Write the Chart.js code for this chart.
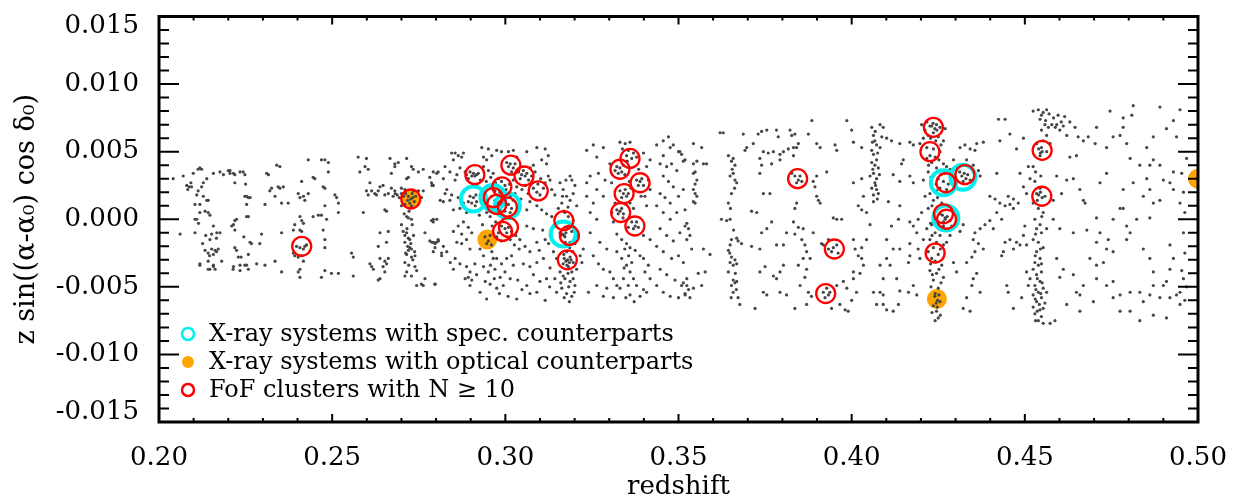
<!DOCTYPE html>
<html>
<head>
<meta charset="utf-8">
<script src="https://cdn.jsdelivr.net/npm/chart.js@4.4.1/dist/chart.umd.min.js"></script>
<style>
  html, body { margin: 0; padding: 0; background: #ffffff; }
  #wrap { width: 1245px; height: 502px; }
</style>
</head>
<body>
<div id="wrap"><canvas id="coneChart" width="1245" height="502"></canvas></div>
<script>
// field galaxies: [redshift, z sin((a-a0) cos d0)]
const galaxies = [
  // z 0.204 - 0.228
  [0.2041,0.0030],[0.2070,0.0032],[0.2080,0.0025],[0.2094,0.0024],[0.2099,0.0034],[0.2118,0.0038],[0.2128,0.0027],[0.2109,0.0018],
  [0.2118,0.0011],[0.2138,0.0014],[0.2142,0.0005],[0.2104,0.0000],[0.2114,-0.0003],[0.2157,0.0034],[0.2176,0.0035],[0.2205,0.0036],
  [0.2215,0.0034],[0.2234,0.0035],[0.2248,0.0033],[0.2253,0.0017],[0.2263,0.0016],[0.2224,0.0000],[0.2215,-0.0004],[0.2157,-0.0005],
  [0.2167,-0.0010],[0.2258,0.0002],[0.2061,-0.0011],[0.2118,-0.0034],[0.2147,-0.0037],[0.2157,-0.0035],[0.2215,-0.0035],[0.2234,-0.0038],
  [0.2253,-0.0034],[0.2087,0.0024],[0.2083,0.0022],[0.2092,0.0027],[0.2113,0.0021],[0.2104,0.0011],[0.2118,0.0005],[0.2109,0.0000],
  [0.2104,-0.0010],[0.2113,0.0037],[0.2123,0.0037],[0.2123,0.0024],[0.2142,0.0014],[0.2133,0.0006],[0.2147,0.0003],[0.2133,-0.0023],
  [0.2142,-0.0025],[0.2152,-0.0022],[0.2162,-0.0023],[0.2166,-0.0024],[0.2171,-0.0022],[0.2157,-0.0026],[0.2147,-0.0015],[0.2152,-0.0011],
  [0.2166,-0.0014],[0.2176,-0.0010],[0.2142,-0.0031],[0.2157,-0.0034],[0.2142,-0.0037],[0.2162,-0.0037],[0.2181,-0.0031],[0.2118,-0.0033],
  [0.2186,0.0033],[0.2200,0.0036],[0.2205,0.0034],[0.2219,0.0033],[0.2243,0.0035],[0.2219,0.0027],[0.2248,0.0017],[0.2258,0.0016],
  [0.2253,0.0002],[0.2219,-0.0001],[0.2210,-0.0005],[0.2219,-0.0008],[0.2219,-0.0021],[0.2224,-0.0023],[0.2229,-0.0028],[0.2263,-0.0017],
  [0.2267,-0.0018],[0.2258,-0.0026],[0.2234,-0.0034],[0.2248,-0.0034],[0.2258,-0.0037],[0.2214,-0.0037],[0.2253,0.0011],
  [0.2128,0.0017],[0.2135,-0.0012],[0.2146,-0.0027],[0.2126,-0.0018],[0.2138,0.0030],[0.2237,-0.0028],[0.2245,-0.0013],[0.2250,0.0026],
  // z 0.228 - 0.256
  [0.2311,0.0034],[0.2316,0.0033],[0.2340,0.0040],[0.2349,0.0039],[0.2320,0.0021],[0.2325,0.0023],[0.2344,0.0024],[0.2349,0.0023],
  [0.2359,0.0024],[0.2335,0.0017],[0.2306,0.0011],[0.2354,0.0012],[0.2296,-0.0011],[0.2291,-0.0018],[0.2335,-0.0031],[0.2354,-0.0010],
  [0.2354,-0.0039],[0.2306,-0.0034],[0.2282,-0.0033],[0.2373,0.0012],[0.2392,-0.0004],[0.2388,-0.0008],[0.2407,0.0002],[0.2412,-0.0001],
  [0.2417,-0.0003],[0.2407,-0.0008],[0.2412,-0.0009],[0.2402,0.0019],[0.2407,0.0016],[0.2417,0.0017],[0.2421,0.0014],[0.2431,0.0019],
  [0.2412,0.0028],[0.2397,-0.0020],[0.2407,-0.0021],[0.2417,-0.0022],[0.2421,-0.0020],[0.2426,-0.0019],[0.2388,-0.0025],[0.2392,-0.0027],
  [0.2402,-0.0028],[0.2412,-0.0027],[0.2417,-0.0031],[0.2407,-0.0037],[0.2402,-0.0039],[0.2407,-0.0043],[0.2431,0.0044],[0.2445,0.0031],
  [0.2450,0.0030],[0.2445,0.0002],[0.2460,0.0003],[0.2469,0.0003],[0.2469,0.0044],[0.2479,0.0044],[0.2489,0.0042],[0.2474,0.0024],
  [0.2479,0.0023],[0.2489,0.0035],[0.2479,0.0010],[0.2484,0.0000],[0.2474,-0.0008],[0.2479,-0.0015],[0.2479,-0.0021],[0.2469,-0.0043],
  [0.2508,0.0018],[0.2513,0.0016],[0.2518,0.0012],[0.2518,0.0005],[0.2479,-0.0038],[0.2498,-0.0040],[0.2518,-0.0040],[0.2556,-0.0025],
  [0.2561,-0.0028],[0.2561,-0.0042],
  // z 0.256 - 0.283
  [0.2575,0.0046],[0.2599,0.0045],[0.2595,0.0039],[0.2580,0.0035],[0.2604,0.0037],[0.2609,0.0027],[0.2599,0.0021],[0.2604,0.0018],
  [0.2614,0.0021],[0.2628,0.0018],[0.2638,0.0024],[0.2647,0.0025],[0.2652,0.0018],[0.2662,0.0019],[0.2590,0.0005],[0.2623,0.0019],
  [0.2633,0.0021],[0.2652,0.0007],[0.2657,0.0006],[0.2638,-0.0010],[0.2633,-0.0020],[0.2657,-0.0017],[0.2662,-0.0009],[0.2652,-0.0031],
  [0.2657,-0.0033],[0.2647,-0.0035],[0.2638,-0.0029],[0.2609,-0.0033],[0.2614,-0.0035],[0.2619,-0.0037],[0.2633,-0.0045],[0.2638,-0.0044],
  [0.2652,-0.0039],[0.2662,-0.0029],[0.2667,0.0045],[0.2681,0.0041],[0.2691,0.0042],[0.2715,0.0045],[0.2671,0.0034],[0.2681,0.0039],
  [0.2729,0.0039],[0.2734,0.0037],[0.2671,0.0023],[0.2681,0.0021],[0.2700,0.0023],[0.2710,0.0022],[0.2715,0.0030],[0.2720,0.0031],
  [0.2700,0.0010],[0.2710,0.0011],[0.2715,0.0002],[0.2720,0.0001],[0.2729,0.0000],[0.2700,-0.0004],[0.2705,-0.0009],[0.2715,-0.0010],
  [0.2710,-0.0012],[0.2720,-0.0014],[0.2724,-0.0015],[0.2710,-0.0017],[0.2718,-0.0020],[0.2724,-0.0021],[0.2729,-0.0022],[0.2720,-0.0023],
  [0.2715,-0.0026],[0.2729,-0.0028],[0.2739,-0.0027],[0.2710,-0.0032],[0.2739,-0.0035],[0.2729,-0.0042],[0.2710,-0.0042],[0.2744,-0.0049],
  [0.2758,-0.0048],[0.2763,-0.0049],[0.2768,-0.0044],[0.2797,-0.0048],[0.2749,0.0035],[0.2763,0.0037],[0.2749,0.0021],[0.2763,0.0021],
  [0.2758,0.0016],[0.2787,0.0027],[0.2792,0.0025],[0.2782,0.0031],[0.2806,0.0035],[0.2792,0.0000],[0.2787,-0.0001],[0.2768,-0.0010],
  [0.2782,-0.0016],[0.2792,-0.0017],[0.2801,-0.0017],[0.2797,-0.0021],[0.2806,-0.0015],[0.2816,-0.0025],[0.2821,-0.0020],
  [0.2720,0.0017],[0.2727,0.0015],[0.2733,0.0016],[0.2724,0.0012],[0.2731,0.0019],[0.2737,0.0013],[0.2718,0.0014],[0.2729,0.0010],
  [0.2741,0.0017],[0.2735,0.0021],[0.2712,0.0019],[0.2706,0.0017],[0.2700,0.0019],[0.2694,0.0016],[0.2688,0.0018],[0.2682,0.0019],
  [0.2676,0.0017],[0.2722,0.0006],[0.2731,-0.0004],[0.2716,-0.0007],[0.2735,-0.0012],[0.2727,-0.0018],[0.2712,-0.0025],[0.2733,-0.0030],
  [0.2721,-0.0034],[0.2744,-0.0038],[0.2715,-0.0039],[0.2738,-0.0024],[0.2708,0.0004],
  // z 0.278 - 0.292
  [0.2792,0.0035],[0.2802,0.0034],[0.2788,0.0025],[0.2821,0.0030],[0.2826,0.0019],[0.2812,0.0014],[0.2821,0.0013],[0.2802,0.0000],
  [0.2792,-0.0002],[0.2788,-0.0017],[0.2797,-0.0018],[0.2807,-0.0016],[0.2792,-0.0024],[0.2816,-0.0027],[0.2831,-0.0024],[0.2797,-0.0048],
  [0.2841,-0.0032],[0.2826,0.0039],[0.2845,0.0049],[0.2855,0.0049],[0.2864,0.0047],[0.2874,0.0046],[0.2850,0.0044],[0.2879,0.0049],
  [0.2869,0.0038],[0.2884,0.0035],[0.2840,0.0035],[0.2860,0.0033],[0.2888,0.0033],[0.2855,0.0029],[0.2898,0.0035],[0.2908,0.0034],
  [0.2917,0.0033],[0.2912,0.0032],[0.2903,0.0032],[0.2922,0.0034],[0.2893,0.0030],[0.2831,0.0022],[0.2845,0.0018],[0.2840,0.0014],
  [0.2864,0.0016],[0.2879,0.0012],[0.2893,0.0013],[0.2869,0.0008],[0.2850,0.0007],[0.2888,0.0005],[0.2898,0.0006],[0.2898,0.0017],
  [0.2908,0.0016],[0.2917,0.0013],[0.2903,0.0012],[0.2913,0.0010],[0.2864,-0.0005],[0.2879,-0.0002],[0.2850,-0.0009],[0.2874,-0.0011],
  [0.2893,-0.0006],[0.2903,-0.0010],[0.2888,-0.0015],[0.2860,-0.0017],[0.2874,-0.0018],[0.2898,-0.0022],[0.2855,-0.0029],[0.2869,-0.0033],
  [0.2888,-0.0035],[0.2898,-0.0039],[0.2893,-0.0043],[0.2903,-0.0045],[0.2898,-0.0049],[0.2884,-0.0044],[0.2850,-0.0037],[0.2912,-0.0033],
  [0.2917,-0.0041],
  // z 0.292 - 0.303
  [0.2932,0.0053],[0.2951,0.0052],[0.2937,0.0046],[0.2961,0.0047],[0.2975,0.0051],[0.2989,0.0050],[0.3009,0.0050],[0.3023,0.0051],
  [0.2946,0.0044],[0.2937,0.0039],[0.2951,0.0036],[0.2965,0.0034],[0.2980,0.0030],[0.2989,0.0028],[0.2999,0.0025],[0.2956,0.0024],
  [0.2970,0.0021],[0.2941,0.0019],[0.2961,0.0017],[0.2970,0.0014],[0.2980,0.0012],[0.2989,0.0016],[0.2999,0.0013],[0.3009,0.0011],
  [0.3018,0.0008],[0.3014,0.0005],[0.2999,0.0006],[0.2985,0.0007],[0.2975,0.0010],[0.2937,0.0010],[0.2946,0.0005],[0.2956,0.0002],
  [0.3023,0.0014],[0.3028,0.0019],[0.3014,0.0017],[0.3004,0.0019],[0.3033,0.0024],[0.3023,0.0029],[0.3018,0.0035],[0.3009,0.0039],
  [0.3028,0.0041],[0.3004,0.0042],[0.3033,0.0046],[0.2989,-0.0005],[0.2999,-0.0007],[0.3009,-0.0006],[0.3004,-0.0010],[0.2980,-0.0010],
  [0.3018,-0.0009],[0.2975,-0.0013],[0.2989,-0.0016],[0.3014,-0.0015],[0.2941,-0.0013],[0.2951,-0.0016],[0.2956,-0.0012],[0.2946,-0.0018],
  [0.2927,-0.0022],[0.2937,-0.0027],[0.2961,-0.0024],[0.2975,-0.0029],[0.2989,-0.0033],[0.3004,-0.0029],[0.3018,-0.0027],[0.2937,-0.0035],
  [0.2951,-0.0039],[0.2970,-0.0037],[0.2985,-0.0043],[0.2999,-0.0039],[0.3014,-0.0044],[0.2956,-0.0048],[0.2975,-0.0051],[0.2927,-0.0054],
  [0.2946,-0.0059],[0.2994,-0.0049],[0.3023,-0.0034],[0.2965,-0.0029],[0.3014,0.0041],[0.3023,0.0038],[0.3038,0.0035],[0.3047,0.0033],
  [0.3057,0.0032],[0.3062,0.0034],[0.3052,0.0036],[0.3043,0.0030],[0.3067,0.0029],[0.3076,0.0032],
  [0.2945,0.0028],[0.2958,0.0031],[0.2972,0.0027],[0.2984,0.0020],[0.2993,0.0019],[0.3002,0.0022],[0.3012,0.0026],[0.2966,0.0008],
  [0.2955,0.0006],[0.2994,0.0003],[0.3003,0.0001],[0.3026,0.0003],[0.3036,0.0008],[0.3045,0.0015],[0.3048,0.0022],[0.3058,0.0025],
  [0.3072,0.0038],[0.3086,0.0035],[0.3094,0.0026],[0.3102,0.0030],[0.2920,0.0024],[0.2928,0.0029],[0.2915,0.0018],[0.2925,0.0003],
  [0.2934,-0.0004],[0.2962,-0.0005],[0.2972,-0.0002],[0.3030,-0.0012],[0.3040,-0.0022],[0.3026,-0.0019],[0.2960,-0.0019],[0.2968,-0.0044],
  [0.2983,-0.0055],[0.3008,-0.0057],[0.3036,-0.0045],[0.3048,-0.0052],[0.2942,-0.0046],[0.2957,-0.0034],[0.3098,-0.0023],[0.3108,-0.0008],
  [0.3125,-0.0018],[0.3128,-0.0050],
  // z 0.303 - 0.313
  [0.3062,0.0050],[0.3091,0.0053],[0.3115,0.0052],[0.3124,0.0047],[0.3105,0.0044],[0.3119,0.0041],[0.3081,0.0040],[0.3066,0.0019],
  [0.3081,0.0023],[0.3091,0.0020],[0.3100,0.0018],[0.3110,0.0023],[0.3115,0.0027],[0.3124,0.0032],[0.3129,0.0029],[0.3071,0.0013],
  [0.3062,0.0007],[0.3091,0.0010],[0.3105,0.0007],[0.3119,0.0004],[0.3062,-0.0005],[0.3081,-0.0007],[0.3042,-0.0015],[0.3057,-0.0020],
  [0.3071,-0.0024],[0.3091,-0.0017],[0.3115,-0.0015],[0.3052,-0.0033],[0.3071,-0.0035],[0.3091,-0.0032],[0.3110,-0.0029],[0.3081,-0.0041],
  [0.3100,-0.0046],[0.3062,-0.0049],[0.3119,-0.0044],[0.3129,-0.0036],[0.3071,-0.0055],[0.3091,-0.0054],[0.3033,-0.0059],[0.3115,-0.0060],
  // z 0.313 - 0.323
  [0.3134,0.0022],[0.3143,0.0018],[0.3158,0.0027],[0.3167,0.0022],[0.3177,0.0017],[0.3187,0.0014],[0.3196,0.0019],[0.3201,0.0025],
  [0.3192,0.0029],[0.3206,0.0010],[0.3163,0.0012],[0.3153,0.0008],[0.3172,0.0005],[0.3182,0.0002],[0.3196,-0.0001],[0.3163,-0.0002],
  [0.3177,-0.0006],[0.3192,-0.0009],[0.3206,-0.0012],[0.3158,-0.0010],[0.3172,-0.0013],[0.3187,-0.0017],[0.3201,-0.0018],[0.3163,-0.0020],
  [0.3177,-0.0024],[0.3187,-0.0028],[0.3196,-0.0032],[0.3167,-0.0033],[0.3182,-0.0035],[0.3192,-0.0039],[0.3158,-0.0039],[0.3172,-0.0044],
  [0.3187,-0.0046],[0.3201,-0.0049],[0.3163,-0.0051],[0.3177,-0.0055],[0.3192,-0.0057],[0.3206,-0.0037],[0.3216,-0.0027],[0.3221,-0.0032],
  [0.3225,-0.0022],[0.3148,-0.0029],[0.3139,-0.0024],[0.3143,-0.0044],[0.3148,-0.0054],[0.3134,0.0002],[0.3180,-0.0030],[0.3175,-0.0031],
  [0.3185,-0.0032],[0.3170,-0.0029],[0.3190,-0.0030],[0.3178,-0.0034],[0.3165,-0.0011],[0.3170,-0.0012],[0.3175,-0.0010],[0.3160,-0.0012],
  [0.3168,0.0006],[0.3181,0.0009],[0.3173,-0.0017],[0.3186,-0.0021],[0.3169,-0.0026],[0.3195,-0.0024],[0.3181,-0.0040],[0.3167,-0.0042],
  [0.3196,-0.0044],[0.3183,-0.0050],[0.3170,-0.0058],[0.3185,-0.0061],[0.3199,-0.0054],[0.3160,-0.0047],[0.3175,0.0029],[0.3187,0.0032],
  [0.3165,0.0017],
  // z 0.323 - 0.333
  [0.3235,0.0051],[0.3254,0.0055],[0.3264,0.0046],[0.3283,0.0053],[0.3235,0.0017],[0.3254,0.0012],[0.3264,0.0022],[0.3283,0.0017],
  [0.3245,0.0005],[0.3264,0.0000],[0.3245,-0.0010],[0.3273,-0.0017],[0.3293,-0.0022],[0.3254,-0.0027],[0.3269,-0.0033],[0.3283,-0.0037],
  [0.3302,-0.0039],[0.3312,-0.0044],[0.3322,-0.0049],[0.3264,-0.0049],[0.3293,-0.0051],[0.3240,-0.0054],[0.3283,-0.0057],[0.3312,-0.0058],
  [0.3235,0.0027],[0.3245,0.0032],[0.3269,0.0034],[0.3288,0.0029],[0.3307,0.0027],[0.3302,0.0041],[0.3317,0.0036],
  // z 0.332 - 0.342
  [0.3331,0.0057],[0.3346,0.0056],[0.3360,0.0057],[0.3355,0.0051],[0.3370,0.0049],[0.3379,0.0046],[0.3365,0.0045],[0.3350,0.0047],
  [0.3322,0.0039],[0.3331,0.0038],[0.3336,0.0035],[0.3326,0.0034],[0.3341,0.0040],[0.3379,0.0029],[0.3389,0.0028],[0.3399,0.0025],
  [0.3384,0.0025],[0.3394,0.0030],[0.3331,0.0021],[0.3341,0.0019],[0.3350,0.0017],[0.3346,0.0022],[0.3336,0.0016],[0.3355,0.0019],
  [0.3322,0.0007],[0.3331,0.0006],[0.3341,0.0004],[0.3326,0.0004],[0.3336,0.0008],[0.3365,-0.0002],[0.3375,-0.0005],[0.3384,-0.0006],
  [0.3370,-0.0007],[0.3379,-0.0002],[0.3317,0.0012],[0.3360,0.0012],[0.3370,0.0008],[0.3403,0.0017],[0.3408,0.0010],[0.3322,-0.0011],
  [0.3336,-0.0015],[0.3350,-0.0018],[0.3360,-0.0021],[0.3322,-0.0024],[0.3336,-0.0029],[0.3350,-0.0034],[0.3360,-0.0039],[0.3370,-0.0044],
  [0.3341,-0.0044],[0.3355,-0.0049],[0.3379,-0.0049],[0.3399,-0.0052],[0.3331,-0.0051],[0.3360,-0.0056],[0.3389,-0.0057],[0.3408,-0.0054],
  [0.3375,-0.0023],[0.3389,-0.0027],[0.3399,-0.0029],[0.3413,-0.0034],[0.3403,-0.0039],[0.3418,-0.0044],[0.3312,-0.0002],[0.3307,0.0005],
  [0.3399,-0.0012],[0.3418,-0.0015],[0.3408,0.0039],[0.3418,0.0044],[0.3399,0.0049],[0.3413,0.0029],[0.3418,0.0022],
  [0.3338,0.0052],[0.3352,0.0043],[0.3345,0.0033],[0.3358,0.0028],[0.3349,0.0011],[0.3340,0.0001],[0.3355,-0.0006],[0.3345,-0.0022],
  [0.3356,-0.0027],[0.3343,-0.0036],[0.3365,-0.0032],[0.3348,-0.0058],[0.3372,-0.0061],[0.3385,0.0037],[0.3392,0.0017],[0.3363,0.0023],
  // z 0.343 - 0.353
  [0.3437,0.0055],[0.3456,0.0058],[0.3471,0.0061],[0.3485,0.0055],[0.3476,0.0053],[0.3456,0.0047],[0.3500,0.0050],[0.3447,0.0041],
  [0.3466,0.0039],[0.3480,0.0041],[0.3495,0.0036],[0.3456,0.0032],[0.3471,0.0028],[0.3485,0.0024],[0.3447,0.0019],[0.3461,0.0016],
  [0.3476,0.0012],[0.3500,0.0017],[0.3514,0.0022],[0.3437,0.0010],[0.3456,0.0005],[0.3476,0.0000],[0.3495,0.0005],[0.3519,0.0007],
  [0.3447,-0.0007],[0.3466,-0.0012],[0.3485,-0.0016],[0.3504,-0.0010],[0.3524,-0.0015],[0.3437,-0.0020],[0.3456,-0.0024],[0.3480,-0.0029],
  [0.3500,-0.0027],[0.3514,-0.0032],[0.3447,-0.0037],[0.3466,-0.0041],[0.3490,-0.0045],[0.3509,-0.0049],[0.3524,-0.0044],[0.3456,-0.0054],
  [0.3476,-0.0057],[0.3500,-0.0058],[0.3519,-0.0055],[0.3437,-0.0049],
  // z 0.350 - 0.360
  [0.3509,0.0048],[0.3519,0.0044],[0.3514,0.0043],[0.3504,0.0050],[0.3543,0.0041],[0.3553,0.0043],[0.3548,0.0035],[0.3543,0.0034],
  [0.3553,0.0029],[0.3548,0.0026],[0.3543,0.0022],[0.3548,0.0019],[0.3553,0.0017],[0.3543,0.0013],[0.3548,0.0012],[0.3524,-0.0003],
  [0.3529,-0.0007],[0.3533,-0.0012],[0.3519,-0.0005],[0.3514,-0.0047],[0.3524,-0.0049],[0.3529,-0.0052],[0.3519,-0.0056],[0.3533,-0.0058],
  [0.3543,-0.0051],[0.3572,-0.0022],[0.3557,-0.0040],[0.3567,-0.0049],[0.3577,-0.0039],[0.3543,0.0056],[0.3567,0.0053],[0.3581,0.0041],
  [0.3572,0.0041],[0.3591,-0.0026],[0.3538,-0.0022],
  // z 0.360 - 0.370
  [0.3620,0.0064],[0.3629,0.0064],[0.3644,0.0047],[0.3658,0.0045],[0.3653,0.0043],[0.3663,0.0040],[0.3658,0.0034],[0.3649,0.0032],
  [0.3663,0.0029],[0.3668,0.0027],[0.3653,0.0019],[0.3644,0.0012],[0.3649,0.0000],[0.3639,-0.0001],[0.3653,-0.0015],[0.3668,-0.0014],
  [0.3672,-0.0016],[0.3649,-0.0019],[0.3644,-0.0023],[0.3653,-0.0028],[0.3663,-0.0030],[0.3649,-0.0032],[0.3658,-0.0034],[0.3668,-0.0033],
  [0.3658,-0.0045],[0.3663,-0.0047],[0.3653,-0.0049],[0.3668,-0.0046],[0.3658,-0.0054],[0.3672,-0.0058],[0.3677,-0.0063],[0.3644,-0.0039],
  [0.3624,0.0000],[0.3687,0.0063],[0.3697,0.0053],[0.3692,0.0051],[0.3682,-0.0018],
  [0.3655,0.0037],[0.3662,0.0023],[0.3650,0.0008],[0.3659,-0.0008],[0.3648,-0.0025],[0.3664,-0.0040],[0.3652,-0.0058],[0.3667,-0.0052],
  // z 0.370 - 0.384
  [0.3716,0.0056],[0.3730,0.0063],[0.3740,0.0065],[0.3755,0.0066],[0.3745,0.0050],[0.3759,0.0049],[0.3774,0.0050],[0.3735,0.0045],
  [0.3740,0.0040],[0.3735,0.0034],[0.3769,0.0041],[0.3783,0.0066],[0.3788,0.0061],[0.3803,0.0050],[0.3793,0.0048],[0.3822,0.0066],
  [0.3827,0.0062],[0.3836,0.0063],[0.3832,0.0053],[0.3817,0.0052],[0.3793,0.0044],[0.3764,0.0019],[0.3745,0.0019],[0.3711,0.0006],
  [0.3726,0.0005],[0.3740,-0.0010],[0.3755,-0.0007],[0.3769,-0.0002],[0.3735,-0.0022],[0.3750,-0.0035],[0.3735,-0.0039],[0.3774,-0.0042],
  [0.3793,-0.0039],[0.3803,-0.0034],[0.3783,-0.0044],[0.3745,-0.0054],[0.3755,-0.0056],[0.3721,-0.0066],[0.3793,-0.0054],[0.3812,-0.0056],
  [0.3803,-0.0019],[0.3812,-0.0010],[0.3783,-0.0019],[0.3711,-0.0020],
  // z 0.382 - 0.391
  [0.3827,0.0034],[0.3836,0.0032],[0.3846,0.0029],[0.3856,0.0028],[0.3841,0.0027],[0.3851,0.0032],[0.3832,0.0047],[0.3841,0.0053],
  [0.3846,0.0056],[0.3841,0.0012],[0.3836,0.0008],[0.3832,-0.0002],[0.3846,-0.0006],[0.3860,-0.0007],[0.3836,-0.0011],[0.3856,-0.0015],
  [0.3865,-0.0019],[0.3870,-0.0024],[0.3860,-0.0029],[0.3846,-0.0034],[0.3870,-0.0037],[0.3865,-0.0043],[0.3851,-0.0049],[0.3875,-0.0054],
  [0.3884,-0.0057],[0.3870,-0.0063],[0.3836,-0.0066],[0.3880,-0.0029],[0.3889,-0.0010],[0.3899,0.0017],[0.3904,0.0014],[0.3909,0.0012],
  [0.3899,0.0032],[0.3909,0.0053],[0.3899,0.0056],[0.3875,0.0063],[0.3885,0.0073],[0.3889,0.0028],[0.3894,0.0024],
  // z 0.391 - 0.405
  [0.3918,-0.0019],[0.3933,-0.0022],[0.3947,-0.0021],[0.3957,-0.0019],[0.3942,-0.0024],[0.3961,-0.0025],[0.3928,-0.0051],[0.3918,-0.0054],
  [0.3933,-0.0056],[0.3923,-0.0058],[0.3937,-0.0054],[0.3957,-0.0049],[0.3976,-0.0046],[0.3986,-0.0051],[0.3966,-0.0063],[0.3981,-0.0067],
  [0.3990,-0.0068],[0.4000,-0.0060],[0.4014,-0.0054],[0.4005,-0.0044],[0.4024,-0.0040],[0.4034,-0.0034],[0.4029,-0.0029],[0.4019,-0.0027],
  [0.4010,-0.0022],[0.3986,0.0073],[0.4000,0.0066],[0.4005,0.0057],[0.4029,0.0053],[0.4005,0.0027],[0.4029,0.0030],[0.4034,0.0017],
  [0.4019,0.0010],[0.4029,0.0007],[0.4043,0.0005],[0.3947,0.0001],[0.3957,0.0000],[0.3971,0.0000],[0.3933,-0.0015],[0.4005,-0.0015],
  [0.3952,0.0055],[0.3957,0.0051],[0.3928,0.0035],[0.3913,-0.0018],[0.3942,-0.0066],[0.4005,-0.0039],
  // z 0.405 - 0.420
  [0.4058,0.0068],[0.4063,0.0062],[0.4067,0.0058],[0.4072,0.0055],[0.4058,0.0051],[0.4063,0.0048],[0.4072,0.0044],[0.4067,0.0040],
  [0.4077,0.0038],[0.4063,0.0034],[0.4072,0.0030],[0.4067,0.0027],[0.4058,0.0023],[0.4072,0.0022],[0.4077,0.0019],[0.4063,0.0018],
  [0.4082,0.0053],[0.4087,0.0061],[0.4091,0.0068],[0.4082,0.0070],[0.4063,0.0013],[0.4058,0.0042],[0.4053,0.0032],[0.4101,0.0060],
  [0.4115,0.0058],[0.4139,0.0056],[0.4168,0.0057],[0.4178,0.0055],[0.4149,0.0044],[0.4144,0.0041],[0.4120,0.0033],[0.4139,0.0028],
  [0.4178,0.0027],[0.4168,0.0032],[0.4106,0.0013],[0.4139,0.0010],[0.4135,0.0000],[0.4168,-0.0002],[0.4178,-0.0005],[0.4115,-0.0005],
  [0.4101,-0.0015],[0.4120,-0.0022],[0.4139,-0.0022],[0.4168,-0.0018],[0.4188,-0.0010],[0.4101,-0.0029],[0.4082,-0.0034],[0.4091,-0.0044],
  [0.4111,-0.0034],[0.4130,-0.0044],[0.4139,-0.0053],[0.4091,-0.0056],[0.4091,-0.0063],[0.4101,-0.0067],[0.4120,-0.0068],[0.4135,-0.0063],
  [0.4164,-0.0054],[0.4178,-0.0049],[0.4188,-0.0056],[0.4168,-0.0027],[0.4164,-0.0032],[0.4192,0.0000],[0.4192,-0.0022],[0.4053,-0.0004],
  [0.4082,-0.0054],[0.4043,-0.0015],[0.4029,-0.0021],[0.4063,-0.0054],[0.4072,-0.0063],
  [0.4068,0.0065],[0.4075,0.0049],[0.4061,0.0037],[0.4069,0.0025],[0.4080,0.0033],[0.4060,0.0057],[0.4074,0.0015],
  // z 0.420 - 0.430
  [0.4202,0.0070],[0.4217,0.0072],[0.4226,0.0069],[0.4245,0.0070],[0.4255,0.0068],[0.4270,0.0067],[0.4212,0.0066],[0.4236,0.0064],
  [0.4221,0.0062],[0.4207,0.0060],[0.4250,0.0061],[0.4265,0.0058],[0.4197,0.0056],[0.4217,0.0053],[0.4236,0.0052],[0.4255,0.0050],
  [0.4241,0.0046],[0.4217,0.0045],[0.4231,0.0042],[0.4265,0.0041],[0.4274,0.0039],[0.4245,0.0038],[0.4221,0.0035],[0.4236,0.0033],
  [0.4250,0.0030],[0.4265,0.0028],[0.4279,0.0026],[0.4255,0.0023],[0.4245,0.0021],[0.4274,0.0022],[0.4226,0.0019],[0.4212,0.0017],
  [0.4236,0.0014],[0.4260,0.0012],[0.4221,0.0008],[0.4241,0.0006],[0.4255,0.0004],[0.4270,0.0001],[0.4284,-0.0001],[0.4245,-0.0001],
  [0.4231,-0.0004],[0.4265,-0.0005],[0.4217,-0.0007],[0.4241,-0.0010],[0.4255,-0.0012],[0.4226,-0.0015],[0.4245,-0.0017],[0.4265,-0.0019],
  [0.4236,-0.0021],[0.4221,-0.0024],[0.4250,-0.0026],[0.4231,-0.0029],[0.4241,-0.0031],[0.4260,-0.0034],[0.4226,-0.0038],[0.4245,-0.0040],
  [0.4265,-0.0043],[0.4236,-0.0045],[0.4250,-0.0051],[0.4241,-0.0055],[0.4255,-0.0061],[0.4236,-0.0064],[0.4245,-0.0068],[0.4250,-0.0073],
  [0.4241,-0.0075],[0.4207,-0.0015],[0.4197,-0.0029],[0.4274,-0.0017],[0.4284,-0.0012],[0.4289,-0.0005],[0.4207,0.0029],[0.4202,0.0005],
  [0.4294,0.0032],[0.4284,0.0037],[0.4294,0.0044],[0.4231,0.0069],[0.4240,0.0067],[0.4246,0.0066],[0.4235,0.0071],[0.4318,0.0032],
  [0.4325,0.0034],[0.4330,0.0030],[0.4322,0.0028],[0.4335,0.0033],[0.4312,0.0035],[0.4262,0.0003],[0.4270,0.0000],[0.4276,0.0002],
  [0.4265,-0.0002],[0.4240,-0.0057],[0.4248,-0.0060],[0.4252,-0.0056],[0.4244,-0.0062],
  [0.4228,0.0060],[0.4243,0.0058],[0.4258,0.0055],[0.4226,0.0047],[0.4252,0.0044],[0.4229,0.0031],[0.4244,0.0026],[0.4258,0.0033],
  [0.4232,0.0010],[0.4248,0.0016],[0.4228,-0.0003],[0.4252,-0.0007],[0.4232,-0.0012],[0.4256,-0.0022],[0.4228,-0.0033],[0.4252,-0.0037],
  [0.4233,-0.0041],[0.4258,-0.0047],[0.4229,-0.0050],[0.4247,-0.0065],[0.4232,-0.0069],[0.4256,-0.0071],[0.4222,0.0040],[0.4268,0.0034],
  // z 0.430 - 0.451
  [0.4313,0.0053],[0.4327,0.0055],[0.4342,0.0052],[0.4356,0.0051],[0.4361,0.0056],[0.4380,0.0057],[0.4332,0.0044],[0.4351,0.0040],
  [0.4366,0.0036],[0.4342,0.0029],[0.4371,0.0032],[0.4399,0.0017],[0.4414,0.0015],[0.4428,0.0012],[0.4443,0.0010],[0.4457,0.0011],
  [0.4467,0.0015],[0.4452,0.0017],[0.4467,0.0008],[0.4481,0.0012],[0.4419,0.0005],[0.4433,0.0000],[0.4399,-0.0001],[0.4385,-0.0004],
  [0.4371,-0.0007],[0.4356,-0.0010],[0.4351,-0.0015],[0.4366,-0.0018],[0.4380,-0.0022],[0.4356,-0.0024],[0.4347,-0.0028],[0.4332,-0.0032],
  [0.4351,-0.0044],[0.4347,-0.0049],[0.4361,-0.0040],[0.4371,-0.0054],[0.4332,-0.0058],[0.4342,-0.0068],[0.4322,-0.0066],[0.4443,-0.0017],
  [0.4457,-0.0015],[0.4476,-0.0017],[0.4486,-0.0019],[0.4467,-0.0022],[0.4438,-0.0024],[0.4433,-0.0027],[0.4448,-0.0049],[0.4452,-0.0054],
  [0.4428,0.0058],[0.4457,0.0063],[0.4424,0.0074],[0.4443,0.0074],[0.4496,0.0060],[0.4476,0.0052],[0.4510,0.0039],[0.4486,0.0034],
  [0.4496,0.0024],[0.4505,0.0019],[0.4419,0.0034],[0.4322,-0.0004],[0.4313,-0.0009],[0.4294,-0.0032],[0.4303,-0.0039],[0.4491,-0.0058],
  [0.4467,-0.0066],[0.4496,-0.0012],[0.4409,-0.0007],
  // z 0.450 - 0.459
  [0.4524,0.0080],[0.4539,0.0081],[0.4553,0.0079],[0.4563,0.0081],[0.4544,0.0074],[0.4558,0.0070],[0.4568,0.0068],[0.4548,0.0066],
  [0.4563,0.0062],[0.4553,0.0058],[0.4534,0.0056],[0.4548,0.0053],[0.4563,0.0050],[0.4544,0.0047],[0.4524,0.0039],[0.4515,0.0030],
  [0.4529,0.0028],[0.4544,0.0023],[0.4534,0.0019],[0.4558,0.0017],[0.4524,0.0012],[0.4539,0.0008],[0.4553,0.0005],[0.4529,0.0000],
  [0.4544,-0.0004],[0.4534,-0.0007],[0.4548,-0.0010],[0.4524,-0.0015],[0.4539,-0.0017],[0.4553,-0.0021],[0.4534,-0.0024],[0.4544,-0.0029],
  [0.4529,-0.0032],[0.4539,-0.0034],[0.4524,-0.0037],[0.4548,-0.0039],[0.4534,-0.0041],[0.4515,-0.0044],[0.4544,-0.0046],[0.4529,-0.0049],
  [0.4553,-0.0051],[0.4539,-0.0054],[0.4524,-0.0056],[0.4548,-0.0058],[0.4534,-0.0061],[0.4558,-0.0062],[0.4524,-0.0065],[0.4544,-0.0067],
  [0.4529,-0.0070],[0.4539,-0.0075],[0.4553,-0.0077],[0.4573,-0.0077],[0.4587,-0.0075],[0.4505,-0.0039],[0.4510,-0.0049],[0.4563,-0.0054],
  [0.4563,-0.0007],[0.4505,-0.0019],[0.4500,-0.0005],[0.4573,0.0056],[0.4578,0.0070],[0.4540,0.0052],[0.4550,0.0050],[0.4545,0.0049],
  [0.4540,0.0018],[0.4550,0.0016],[0.4545,0.0020],
  [0.4531,0.0035],[0.4546,0.0032],[0.4536,0.0014],[0.4549,0.0002],[0.4531,-0.0011],[0.4545,-0.0022],[0.4530,-0.0027],[0.4548,-0.0033],
  [0.4536,-0.0044],[0.4550,-0.0047],[0.4532,-0.0052],[0.4546,-0.0055],[0.4530,-0.0059],[0.4542,-0.0063],[0.4553,-0.0066],[0.4536,-0.0068],
  [0.4548,-0.0072],[0.4531,-0.0075],[0.4570,0.0078],[0.4583,0.0075],[0.4596,0.0077],[0.4560,0.0073],[0.4588,0.0068],[0.4605,0.0072],
  [0.4548,0.0077],[0.4615,0.0076],
  // z 0.458 - 0.500
  [0.4592,0.0070],[0.4611,0.0069],[0.4630,0.0072],[0.4645,0.0068],[0.4601,0.0066],[0.4621,0.0062],[0.4654,0.0061],[0.4683,0.0061],
  [0.4649,0.0047],[0.4669,0.0058],[0.4703,0.0056],[0.4707,0.0068],[0.4736,0.0053],[0.4746,0.0080],[0.4755,0.0061],[0.4775,0.0062],
  [0.4784,0.0068],[0.4794,0.0056],[0.4809,0.0077],[0.4813,0.0084],[0.4784,0.0075],[0.4804,0.0045],[0.4832,0.0040],[0.4861,0.0040],
  [0.4871,0.0044],[0.4890,0.0040],[0.4852,0.0053],[0.4871,0.0061],[0.4890,0.0083],[0.4909,0.0067],[0.4929,0.0073],[0.4948,0.0081],
  [0.4938,0.0061],[0.4900,0.0029],[0.4919,0.0027],[0.4929,0.0035],[0.4852,0.0030],[0.4861,0.0022],[0.4842,0.0017],[0.4813,0.0027],
  [0.4784,0.0022],[0.4775,0.0008],[0.4755,0.0000],[0.4784,0.0008],[0.4669,0.0014],[0.4674,0.0012],[0.4659,0.0022],[0.4640,0.0030],
  [0.4621,0.0029],[0.4592,0.0032],[0.4606,0.0019],[0.4717,0.0027],[0.4736,0.0034],[0.4707,0.0001],[0.4717,-0.0010],[0.4741,-0.0015],
  [0.4707,-0.0017],[0.4679,-0.0008],[0.4640,-0.0010],[0.4601,-0.0007],[0.4582,0.0000],[0.4794,-0.0005],[0.4794,-0.0015],[0.4804,-0.0010],
  [0.4823,0.0000],[0.4861,0.0001],[0.4871,0.0012],[0.4890,0.0014],[0.4919,-0.0019],[0.4929,-0.0029],[0.4919,-0.0037],[0.4909,-0.0046],
  [0.4900,-0.0049],[0.4938,-0.0056],[0.4919,-0.0058],[0.4871,-0.0049],[0.4861,-0.0056],[0.4832,-0.0054],[0.4842,-0.0061],[0.4804,-0.0054],
  [0.4775,-0.0056],[0.4755,-0.0058],[0.4755,-0.0046],[0.4736,-0.0049],[0.4707,-0.0034],[0.4727,-0.0032],[0.4688,-0.0029],[0.4669,-0.0049],
  [0.4649,-0.0054],[0.4659,-0.0056],[0.4640,-0.0041],[0.4611,-0.0037],[0.4592,-0.0029],[0.4621,-0.0063],[0.4659,-0.0068],[0.4698,-0.0061],
  [0.4775,-0.0068],[0.4804,-0.0068],[0.4832,-0.0075],[0.4871,-0.0071],[0.4909,-0.0073],[0.4948,-0.0063],[0.4958,-0.0044],[0.4948,-0.0054],
  [0.4871,-0.0039],[0.4842,-0.0022],[0.4861,-0.0029],[0.4736,-0.0022],[0.4755,-0.0024],[0.4707,-0.0044],[0.4601,-0.0043],[0.4582,0.0014],
  [0.4630,0.0046],[0.4929,0.0022],[0.4948,0.0012],[0.4890,-0.0058],[0.4953,0.0034],[0.4958,0.0020],[0.4962,0.0005],[0.4958,-0.0010],
  [0.4962,-0.0025],[0.4953,-0.0038],[0.4967,-0.0050],[0.4962,-0.0060],[0.4967,0.0045]
];

// friends-of-friends groups with N >= 10
const fofClusters = [
  [0.2412,-0.0020],[0.2727,0.0015],[0.2912,0.0033],[0.3016,0.0040],[0.3054,0.0032],[0.3095,0.0021],[0.2990,0.0024],
  [0.2965,0.0016],[0.2975,0.0011],[0.3006,0.0009],[0.3009,-0.0006],[0.2992,-0.0009],[0.3169,-0.0001],[0.3185,-0.0012],
  [0.3179,-0.0030],[0.3360,0.0045],[0.3331,0.0037],[0.3389,0.0027],[0.3343,0.0019],[0.3333,0.0005],[0.3374,-0.0005],
  [0.3844,0.0030],[0.3950,-0.0022],[0.3925,-0.0055],[0.4236,0.0068],[0.4226,0.0050],[0.4272,0.0027],[0.4327,0.0033],
  [0.4265,0.0004],[0.4274,0.0000],[0.4241,-0.0025],[0.4550,0.0051],[0.4549,0.0017]
];

// X-ray groups with spectroscopic counterparts
const xraySpec = [
  [0.2908,0.0015],[0.2964,0.0016],[0.3006,0.0010],[0.3167,-0.0011],[0.4265,0.0027],[0.4321,0.0031],[0.4272,0.0001]
];

// X-ray groups with optical (photometric) counterparts
const xrayOptical = [
  [0.2727,0.0015],[0.2948,-0.0015],[0.4246,-0.0059],[0.5000,0.0030]
];

const redshiftTicks = [0.20, 0.25, 0.30, 0.35, 0.40, 0.45, 0.50];
const offsetTicks = [-0.015, -0.010, -0.005, 0.000, 0.005, 0.010, 0.015];

const serif = "'DejaVu Serif', 'Liberation Serif', serif";
const toPoints = (rows) => rows.map(([x, y]) => ({ x, y }));

// IDL-style box: thick frame with inward major/minor ticks on all four sides
const boxAxes = {
  id: 'boxAxes',
  afterDraw(chart) {
    const { ctx, chartArea: a, scales: { x, y } } = chart;
    ctx.save();
    ctx.strokeStyle = '#000';
    ctx.lineWidth = 2;
    ctx.beginPath();
    for (let i = 0; i <= 30; i++) {
      const px = x.getPixelForValue(0.2 + i * 0.01);
      const len = i % 5 === 0 ? 8 : 4;
      ctx.moveTo(px, a.bottom); ctx.lineTo(px, a.bottom - len);
      ctx.moveTo(px, a.top); ctx.lineTo(px, a.top + len);
    }
    for (let i = 0; i <= 30; i++) {
      const py = y.getPixelForValue(-0.015 + i * 0.001);
      const len = i % 5 === 0 ? 20 : 10;
      ctx.moveTo(a.left, py); ctx.lineTo(a.left + len, py);
      ctx.moveTo(a.right, py); ctx.lineTo(a.right - len, py);
    }
    ctx.stroke();
    ctx.lineWidth = 3;
    ctx.strokeRect(a.left, a.top, a.right - a.left, a.bottom - a.top);
    ctx.restore();
  }
};

// legend in the lower-left corner of the plot box
const boxLegend = {
  id: 'boxLegend',
  afterDraw(chart) {
    const { ctx, chartArea: a } = chart;
    const rows = [2, 1, 3]; // spec, optical, FoF
    ctx.save();
    ctx.font = '24px ' + serif;
    ctx.textBaseline = 'middle';
    rows.forEach((dsIndex, i) => {
      const ds = chart.data.datasets[dsIndex];
      const cx = a.left + 29;
      const cy = a.bottom - 88 + i * 28;
      ctx.beginPath();
      ctx.arc(cx, cy, 6, 0, Math.PI * 2);
      if (ds.borderWidth > 0) {
        ctx.lineWidth = 2.5;
        ctx.strokeStyle = ds.borderColor;
        ctx.stroke();
      } else {
        ctx.fillStyle = ds.backgroundColor;
        ctx.fill();
      }
      ctx.fillStyle = '#000';
      ctx.fillText(ds.label, a.left + 50, cy + 1);
    });
    ctx.restore();
  }
};

new Chart(document.getElementById('coneChart'), {
  type: 'scatter',
  data: {
    datasets: [
      {
        label: 'galaxies',
        data: toPoints(galaxies),
        pointRadius: 1.6,
        pointHoverRadius: 1.6,
        backgroundColor: '#464646',
        borderWidth: 0,
        order: 3
      },
      {
        label: 'X-ray systems with optical counterparts',
        data: toPoints(xrayOptical),
        pointRadius: 10,
        backgroundColor: '#ffa500',
        borderWidth: 0,
        order: 4
      },
      {
        label: 'X-ray systems with spec. counterparts',
        data: toPoints(xraySpec),
        pointRadius: 12.5,
        backgroundColor: 'rgba(0,0,0,0)',
        borderColor: '#00f0f0',
        borderWidth: 4,
        order: 2
      },
      {
        label: 'FoF clusters with N \u2265 10',
        data: toPoints(fofClusters),
        pointRadius: 9.5,
        backgroundColor: 'rgba(0,0,0,0)',
        borderColor: '#ff0000',
        borderWidth: 2.3,
        order: 1
      }
    ]
  },
  options: {
    responsive: false,
    animation: false,
    devicePixelRatio: 1,
    layout: { padding: { left: 0, right: 47, top: 11, bottom: 0 } },
    plugins: {
      legend: { display: false },
      tooltip: { enabled: false }
    },
    scales: {
      x: {
        type: 'linear',
        min: 0.2,
        max: 0.5,
        afterBuildTicks: (scale) => { scale.ticks = redshiftTicks.map((v) => ({ value: v })); },
        afterFit: (scale) => { scale.height = 80; },
        grid: { display: false },
        border: { display: false },
        ticks: {
          color: '#000',
          padding: 13,
          maxRotation: 0,
          font: { family: serif, size: 26, lineHeight: 1.2 },
          callback: (v) => Number(v).toFixed(2)
        },
        title: {
          display: true,
          text: 'redshift',
          color: '#000',
          padding: 0,
          font: { family: serif, size: 26, lineHeight: 1.15 }
        }
      },
      y: {
        type: 'linear',
        min: -0.015,
        max: 0.015,
        afterBuildTicks: (scale) => { scale.ticks = offsetTicks.map((v) => ({ value: v })); },
        afterFit: (scale) => { scale.width = 159; scale.paddingTop = 0; scale.paddingBottom = 0; },
        grid: { display: false },
        border: { display: false },
        ticks: {
          color: '#000',
          padding: 12,
          font: { family: serif, size: 26, lineHeight: '20px' },
          // end labels sit just inside the box, like the original IDL axis
          callback: (v, i, all) => {
            const txt = Number(v).toFixed(3);
            if (i === all.length - 1) return ['', txt];
            if (i === 0) return [txt, ''];
            return txt;
          }
        },
        title: {
          display: true,
          text: 'z sin((\u03b1-\u03b1\u2080) cos \u03b4\u2080)',
          color: '#000',
          padding: { top: 11, bottom: 0 },
          font: { family: serif, size: 27, lineHeight: 1.2 }
        }
      }
    }
  },
  plugins: [boxAxes, boxLegend]
});
</script>
</body>
</html>
